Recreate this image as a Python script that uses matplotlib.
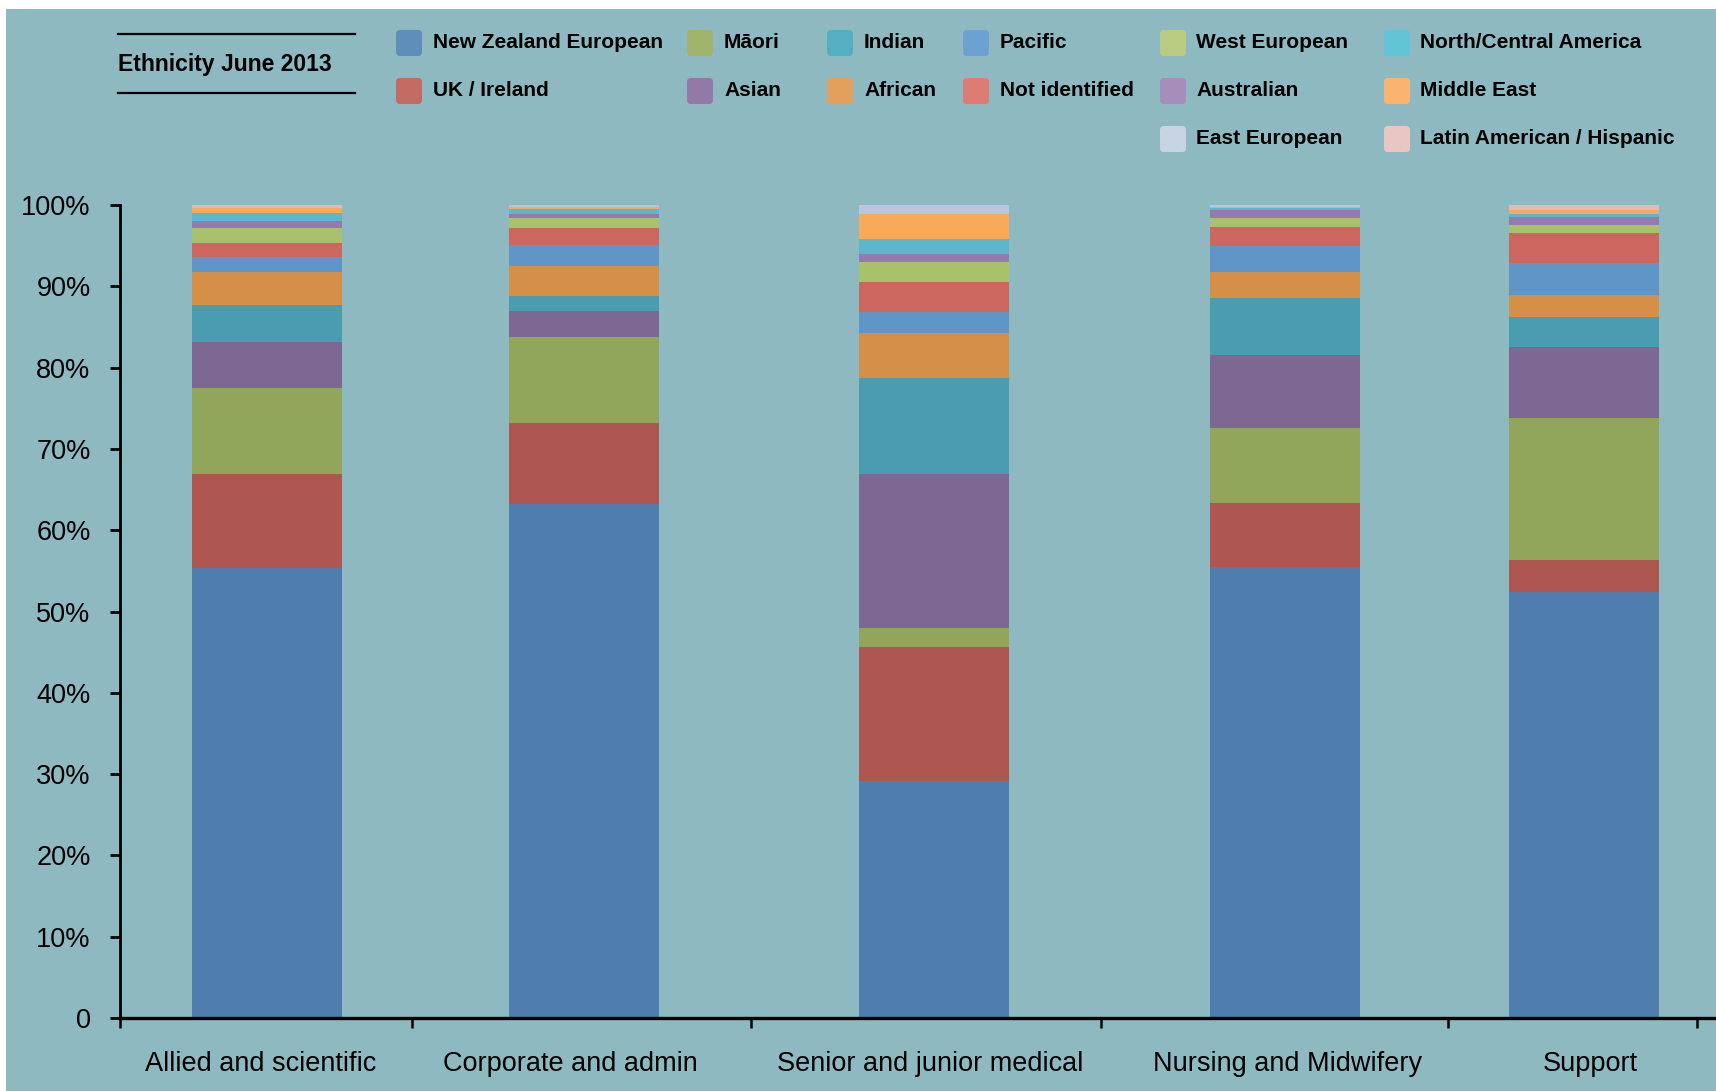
import matplotlib
matplotlib.use("Agg")
import matplotlib.pyplot as plt
from matplotlib.patches import FancyBboxPatch, Rectangle
from matplotlib.lines import Line2D

# ---------------- data ----------------
categories = ["Allied and scientific", "Corporate and admin", "Senior and junior medical",
              "Nursing and Midwifery", "Support"]

nz_european   = [55.3, 63.2, 29.1, 55.45, 52.4]
uk_ireland    = [11.6, 10.0, 16.55, 7.85, 3.9]
maori         = [10.6, 10.6, 2.3, 9.3, 17.45]
asian         = [5.7, 3.15, 19.0, 9.0, 8.8]
indian        = [4.5, 1.85, 11.8, 6.9, 3.7]
african       = [4.0, 3.7, 5.55, 3.2, 2.7]
pacific       = [1.95, 2.6, 2.6, 3.25, 3.9]
not_identified = [1.65, 2.1, 3.6, 2.35, 3.65]
west_european = [1.9, 1.25, 2.45, 1.05, 1.05]
australian    = [0.85, 0.5, 1.0, 1.05, 1.0]
nc_america    = [1.0, 0.6, 1.85, 0.2, 0.35]
middle_east   = [0.55, 0.17, 3.1, 0.15, 0.5]
east_european = [0.1, 0.25, 1.0, 0.17, 0.1]
latin_american = [0.3, 0.03, 0.12, 0.05, 0.5]

yticks = [0, 10, 20, 30, 40, 50, 60, 70, 80, 90, 100]
ytick_labels = ["0", "10%", "20%", "30%", "40%", "50%", "60%", "70%", "80%", "90%", "100%"]

# stacking order (bottom to top)
series = [
    ("New Zealand European", nz_european, "#4E7DAE", "#5E8FBA"),
    ("UK / Ireland", uk_ireland, "#AD5750", "#C36A62"),
    ("M\u0101ori", maori, "#91A65A", "#A2B36C"),
    ("Asian", asian, "#7C6893", "#9279A8"),
    ("Indian", indian, "#4A9CB1", "#53AFC1"),
    ("African", african, "#D68F47", "#E3A05D"),
    ("Pacific", pacific, "#6096C7", "#6CA2D2"),
    ("Not identified", not_identified, "#CC675F", "#DE7B72"),
    ("West European", west_european, "#A8C26C", "#B9CC81"),
    ("Australian", australian, "#957AAF", "#A58EBB"),
    ("North/Central America", nc_america, "#5AB7CE", "#62C4D6"),
    ("Middle East", middle_east, "#F8A95A", "#FBB470"),
    ("East European", east_european, "#B5C6DE", "#C8D4E4"),
    ("Latin American / Hispanic", latin_american, "#DFBABA", "#E8C6C4"),
]

# legend grid layout (row, column) for each series name
legend_layout = {
    "New Zealand European": (0, 0), "M\u0101ori": (0, 1), "Indian": (0, 2), "Pacific": (0, 3),
    "West European": (0, 4), "North/Central America": (0, 5),
    "UK / Ireland": (1, 0), "Asian": (1, 1), "African": (1, 2), "Not identified": (1, 3),
    "Australian": (1, 4), "Middle East": (1, 5),
    "East European": (2, 4), "Latin American / Hispanic": (2, 5),
}

# ---------------- layout ----------------
W, H = 1716, 1091
BG = "#8FB9C1"
bar_centers = [266.5, 584.4, 934.0, 1284.8, 1583.6]
label_centers = [261, 570, 930, 1288, 1590]
bar_width = 150
boundary_ticks = [120, 411.5, 750.8, 1101, 1448, 1697]

fig = plt.figure(figsize=(W / 100, H / 100), dpi=100, facecolor="white")
fig.patches.append(Rectangle((6 / W, 0), 1 - 6 / W, 1 - 9 / H, transform=fig.transFigure,
                             facecolor=BG, edgecolor="none", zorder=-10))

ax_left, ax_bottom, ax_top = 120, 1018, 205
ax = fig.add_axes([ax_left / W, (H - ax_bottom) / H, (W - ax_left) / W, (ax_bottom - ax_top) / H])
ax.set_facecolor("none")
ax.set_zorder(1)

bottom = [0.0] * len(categories)
for name, vals, color, _ in series:
    ax.bar(bar_centers, vals, width=bar_width, bottom=bottom, color=color, edgecolor="none", zorder=2)
    bottom = [b + v for b, v in zip(bottom, vals)]

ax.set_xlim(ax_left, W)
ax.set_ylim(0, 100)

tick_font = ["Liberation Sans", "DejaVu Sans"]
ax.set_yticks(yticks)
ax.set_yticklabels(ytick_labels, fontsize=19.5, family=tick_font)
ax.tick_params(axis="y", direction="out", length=7.2, width=2.0, pad=14, color="black")

ax.set_xticks(label_centers)
ax.set_xticklabels(categories, fontsize=19.5, family=tick_font)
ax.tick_params(axis="x", which="major", length=0, pad=24)
ax.set_xticks(boundary_ticks, minor=True)
ax.tick_params(axis="x", which="minor", direction="out", length=7.2, width=1.8, color="black")

for s in ["top", "right"]:
    ax.spines[s].set_visible(False)
ax.spines["left"].set_linewidth(2.0)
ax.spines["bottom"].set_linewidth(2.4)

# ---------------- legend / title ----------------
ov = fig.add_axes([0, 0, 1, 1])
ov.set_zorder(2)
ov.set_xlim(0, W)
ov.set_ylim(H, 0)
ov.axis("off")
ov.patch.set_visible(False)

leg_font = ["Liberation Sans Narrow", "Liberation Sans", "DejaVu Sans"]
ov.add_line(Line2D([118, 355], [34, 34], color="black", lw=1.6))
ov.add_line(Line2D([118, 355], [93, 93], color="black", lw=1.6))
ov.text(118, 65, "Ethnicity June 2013", fontsize=16.5, fontweight="bold", family=leg_font,
        va="center", ha="left", color="black")

col_marker_x = [396, 687, 827, 963, 1160, 1384]
col_text_x = [433, 724, 864, 1000, 1196, 1420]
row_y = [43, 91, 139]
msz = 26
for name, vals, _, lcolor in series:
    r, c = legend_layout[name]
    y = row_y[r]
    ov.add_patch(FancyBboxPatch((col_marker_x[c] + 4, y - msz / 2 + 4), msz - 8, msz - 8,
                                boxstyle="round,pad=4", facecolor=lcolor, edgecolor="none"))
    ov.text(col_text_x[c], y, name, fontsize=15, fontweight="bold", family=leg_font,
            va="center", ha="left", color="black")

fig.savefig("out.png", dpi=100, facecolor="white")
